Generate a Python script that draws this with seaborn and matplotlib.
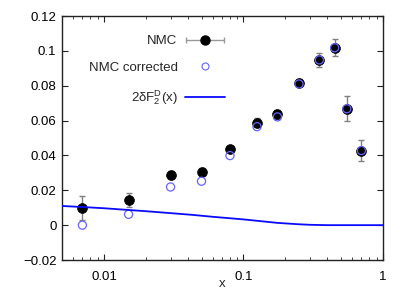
import numpy as np
import pandas as pd
import matplotlib
matplotlib.use('Agg')
import matplotlib.pyplot as plt
from matplotlib.legend_handler import HandlerErrorbar
import seaborn as sns

# NMC data points
x_nmc = [0.007, 0.015, 0.03, 0.05, 0.08, 0.125, 0.175, 0.25, 0.35, 0.45, 0.55, 0.70]
f_nmc = [0.0097, 0.0147, 0.0288, 0.0306, 0.0437, 0.0588, 0.0636, 0.0818, 0.0948, 0.1018, 0.0668, 0.0428]
err_nmc = [0.0069, 0.0040, 0.0022, 0.0021, 0.0010, 0.0025, 0.0025, 0.0022, 0.0042, 0.0048, 0.0071, 0.0060]
# corrected points
f_corr = [0.0, 0.0062, 0.0219, 0.0252, 0.0399, 0.0565, 0.0621, 0.0810, 0.0948, 0.1018, 0.0668, 0.0428]

# 2 dF2^D(x) curve
x_curve = [0.005, 0.007, 0.01, 0.015, 0.02, 0.03, 0.043, 0.06, 0.1, 0.14, 0.175, 0.25, 0.3, 0.4, 0.5, 0.7, 1.0]
y_curve = [0.0110, 0.0104, 0.0097, 0.0087, 0.0080, 0.0069, 0.0059, 0.0048, 0.0033, 0.0021, 0.0013, 0.0005, 0.0002, 0.0, 0.0, 0.0, 0.0]

df = pd.DataFrame({'x': x_nmc, 'nmc': f_nmc, 'err': err_nmc, 'corr': f_corr})
curve = pd.DataFrame({'x': x_curve, 'y': y_curve})

sns.set_style('ticks')
plt.rcParams['font.family'] = ['Liberation Sans', 'DejaVu Sans']
plt.rcParams['mathtext.fontset'] = 'custom'
plt.rcParams['mathtext.rm'] = 'Liberation Sans'
plt.rcParams['mathtext.it'] = 'Liberation Sans'
plt.rcParams['font.size'] = 9.5

fig = plt.figure(figsize=(4.15, 2.91), dpi=100)
ax = fig.add_axes([0.1494, 0.1065, 0.7735, 0.8385])

ax.errorbar(df['x'], df['nmc'], yerr=df['err'], fmt='none', ecolor='#808080',
            elinewidth=1, capsize=2, capthick=1, zorder=2)
sns.scatterplot(data=df, x='x', y='nmc', ax=ax, color='black', s=50,
                edgecolor='black', linewidth=0.5, zorder=3, legend=False)
sns.scatterplot(data=df, x='x', y='corr', ax=ax, facecolor='none', s=34,
                edgecolor='#6464ff', linewidth=0.9, zorder=4, legend=False)
sns.lineplot(data=curve, x='x', y='y', ax=ax, color='#0a0aff', linewidth=1.3, zorder=5)

# legend-only handle (point lies outside the view)
h_nmc = ax.errorbar([1e-6], [1.0], xerr=[[0], [0]], fmt='o', color='black',
                    ms=6.5, ecolor='#999999', elinewidth=1, capsize=2)

ax.set_xscale('log')
ax.set_xlim(0.005, 1)
ax.set_ylim(-0.02, 0.12)
ax.set_yticks([-0.02, 0, 0.02, 0.04, 0.06, 0.08, 0.1, 0.12])
ax.set_yticklabels(['\u22120.02', '0', '0.02', '0.04', '0.06', '0.08', '0.1', '0.12'])
ax.set_xticks([0.01, 0.1, 1])
ax.set_xticklabels(['0.01', '0.1', '1'])
ax.tick_params(which='both', direction='in', top=True, right=True, colors='#222222',
               labelcolor='black', labelsize=9.5)
ax.tick_params(which='major', length=4)
ax.tick_params(which='minor', length=2)
ax.tick_params(axis='x', pad=8)
ax.tick_params(axis='y', pad=4)
ax.set_xlabel('x', fontsize=9.5, labelpad=-4)
ax.set_ylabel('')
for s in ax.spines.values():
    s.set_linewidth(1)
    s.set_color('#222222')

h_corr = plt.Line2D([], [], marker='o', ls='none', mfc='none', mec='#6464ff', ms=5, mew=0.8)
h_line = plt.Line2D([], [], color='#0a0aff', lw=1.3)
ax.legend([h_nmc, h_corr, h_line],
          ['NMC', 'NMC corrected', r'2$\delta$F$_2^{\rm D}$(x)'],
          handler_map={type(h_nmc): HandlerErrorbar(xerr_size=1.45)},
          loc='upper right', bbox_to_anchor=(225 / 415, 1 - 35 / 291),
          bbox_transform=fig.transFigure, frameon=False, markerfirst=False,
          handlelength=3.0, handletextpad=0.6, labelspacing=1.1,
          borderpad=0, borderaxespad=0, fontsize=9.5)

fig.savefig('out.png', dpi=100)
